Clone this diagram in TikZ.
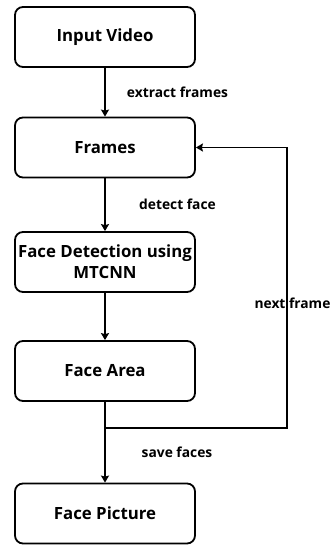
\documentclass[tikz,border=0pt]{standalone}
\usepackage{fontspec}
\setmainfont{Open Sans}
\usetikzlibrary{arrows.meta}

\begin{document}
\begin{tikzpicture}[x=1pt,y=-1pt,
  box/.style={draw,line width=1.8pt,rounded corners=8pt,minimum width=180pt,minimum height=60pt,inner sep=0pt,align=center,font=\fontsize{16.8}{21}\selectfont\bfseries},
  lbl/.style={font=\fontsize{13.8}{16}\selectfont\bfseries},
  flow/.style={line width=1.8pt,-{Stealth[length=7pt,width=8pt,inset=1pt]}}]
\useasboundingbox (0,0) rectangle (332,546);

\node[box](video) at (105,37) {Input Video};
\node[box](frames) at (105,147.5) {Frames};
\node[box](mtcnn) at (105,262) {Face Detection using\\MTCNN};
\node[box](area) at (105,371) {Face Area};
\node[box](picture) at (105,513.5) {Face Picture};

\coordinate (split) at (105,428);
\coordinate (corner) at (287,428);

\draw[flow] (video) -- (frames);
\draw[flow] (frames) -- (mtcnn);
\draw[flow] (mtcnn) -- (area);
\draw[flow] (area) -- (picture);
\draw[flow] (split) -- (corner) |- (frames.east);

\node[lbl](extract) at (177.5,92) {extract frames};
\node[lbl](detect) at (177.5,204) {detect face};
\node[lbl](next) at (292.5,303) {next frame};
\node[lbl](save) at (177,452) {save faces};
\end{tikzpicture}
\end{document}
